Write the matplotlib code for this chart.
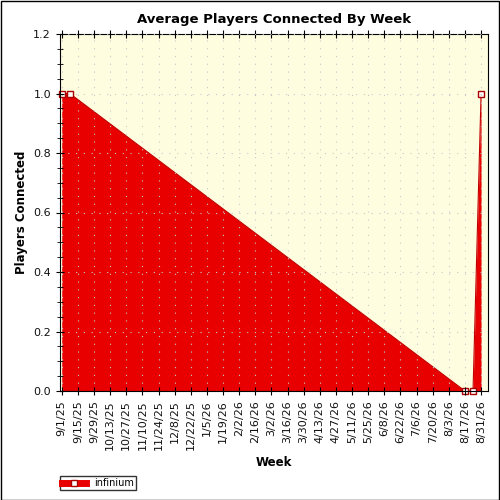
import matplotlib
matplotlib.use("Agg")
import matplotlib.pyplot as plt
import datetime as dt
from matplotlib.ticker import MultipleLocator
from matplotlib.patches import Rectangle
from matplotlib.lines import Line2D

dates = ["2025-09-01", "2025-09-08", "2026-08-17", "2026-08-24", "2026-08-31"]
values = [1.0, 1.0, 0.0, 0.0, 1.0]
series_name = "infinium"

x = [dt.datetime.strptime(d, "%Y-%m-%d") for d in dates]

fig = plt.figure(figsize=(5, 5), dpi=100)
fig.patch.set_facecolor("white")
fig.add_artist(Rectangle((0.001, 0.001), 0.997, 0.997, transform=fig.transFigure, fill=False, ec="black", lw=1))
ax = fig.add_axes([0.12, 0.218, 0.856, 0.714])
ax.set_facecolor("#fffde0")
ax.fill_between(x, values, 0, color="#e80000", lw=0)
ax.plot(x, values, color="#c00000", lw=0.8, marker="s", ms=5, mfc="white", mec="#aa0000", clip_on=False)

start = dt.datetime(2025, 9, 1); end = dt.datetime(2026, 8, 31)
ax.set_xlim(start - dt.timedelta(days=1.5), end + dt.timedelta(days=6))
ax.set_ylim(0, 1.2)
ticks = []
t = start
while t <= end:
    ticks.append(t); t += dt.timedelta(days=14)
ax.set_xticks(ticks)
ax.set_xticklabels([f"{d.month}/{d.day}/{d.year % 100}" for d in ticks], rotation=90, fontsize=8)
ax.yaxis.set_major_locator(MultipleLocator(0.2))
ax.yaxis.set_minor_locator(MultipleLocator(0.05))
ax.yaxis.set_major_formatter(matplotlib.ticker.FormatStrFormatter("%.1f"))
ax.tick_params(axis="y", labelsize=8, labelcolor="#111111")
ax.tick_params(axis="x", labelcolor="#111111")
ax.tick_params(top=True, direction="inout", length=6)
ax.tick_params(which="minor", left=True, direction="inout", length=4)
ax.grid(True, color="#c8c8c8", ls=(0, (1, 6)), lw=0.8)
ax.set_axisbelow(False)
for s in ax.spines.values():
    s.set_color("black")
ax.set_title("Average Players Connected By Week", fontsize=9.5, fontweight="bold", pad=8)
ax.set_xlabel("Week", fontsize=8.5, fontweight="bold")
ax.set_ylabel("Players Connected", fontsize=8.5, fontweight="bold")
h = Line2D([], [], color="#e80000", lw=5, marker="s", mfc="white", mec="#aa0000", ms=5)
fig.legend([h], [series_name], loc="lower left", bbox_to_anchor=(0.11, 0.01), fontsize=7,
           frameon=True, fancybox=False, edgecolor="black", handlelength=2.5, borderpad=0.2)
fig.savefig("out.png", dpi=100)
